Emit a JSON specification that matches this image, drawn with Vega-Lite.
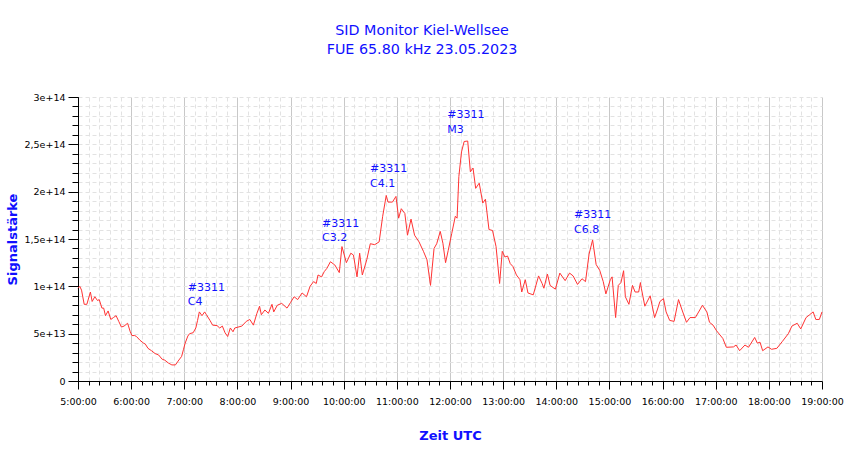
{
  "$schema": "https://vega.github.io/schema/vega-lite/v6.json",
  "width": 744,
  "height": 284,
  "autosize": {"type": "none"},
  "padding": {"left": 78, "top": 97, "right": 28, "bottom": 78},
  "config": {
    "view": {"stroke": null},
    "font": "DejaVu Sans"
  },
  "title": {
    "text": "SID Monitor Kiel-Wellsee",
    "subtitle": "FUE 65.80 kHz 23.05.2023",
    "fontSize": 14.3,
    "subtitleFontSize": 14.3,
    "fontWeight": "normal",
    "color": "#1010ff",
    "subtitleColor": "#1010ff",
    "subtitlePadding": 4,
    "anchor": "middle",
    "dx": -28,
    "offset": 35
  },
  "layer": [
    {
      "data": {
        "values": [
          {"t": "2023-05-23T05:00", "v": 9.8e13},
          {"t": "2023-05-23T05:02", "v": 1.0e14},
          {"t": "2023-05-23T05:04", "v": 9.6e13},
          {"t": "2023-05-23T05:07", "v": 8.1e13},
          {"t": "2023-05-23T05:10", "v": 8.1e13},
          {"t": "2023-05-23T05:14", "v": 9.4e13},
          {"t": "2023-05-23T05:16", "v": 8.4e13},
          {"t": "2023-05-23T05:19", "v": 8.9e13},
          {"t": "2023-05-23T05:22", "v": 8.5e13},
          {"t": "2023-05-23T05:24", "v": 8.6e13},
          {"t": "2023-05-23T05:27", "v": 7.7e13},
          {"t": "2023-05-23T05:29", "v": 7.7e13},
          {"t": "2023-05-23T05:31", "v": 6.9e13},
          {"t": "2023-05-23T05:34", "v": 7.4e13},
          {"t": "2023-05-23T05:37", "v": 6.5e13},
          {"t": "2023-05-23T05:40", "v": 6.7e13},
          {"t": "2023-05-23T05:43", "v": 6.9e13},
          {"t": "2023-05-23T05:46", "v": 6.3e13},
          {"t": "2023-05-23T05:49", "v": 5.7e13},
          {"t": "2023-05-23T05:52", "v": 5.8e13},
          {"t": "2023-05-23T05:56", "v": 6.1e13},
          {"t": "2023-05-23T05:59", "v": 5.2e13},
          {"t": "2023-05-23T06:01", "v": 4.8e13},
          {"t": "2023-05-23T06:04", "v": 4.8e13},
          {"t": "2023-05-23T06:06", "v": 4.7e13},
          {"t": "2023-05-23T06:10", "v": 4.3e13},
          {"t": "2023-05-23T06:14", "v": 4.0e13},
          {"t": "2023-05-23T06:16", "v": 3.9e13},
          {"t": "2023-05-23T06:19", "v": 3.45e13},
          {"t": "2023-05-23T06:23", "v": 3.2e13},
          {"t": "2023-05-23T06:27", "v": 2.9e13},
          {"t": "2023-05-23T06:31", "v": 2.75e13},
          {"t": "2023-05-23T06:35", "v": 2.3e13},
          {"t": "2023-05-23T06:38", "v": 2.2e13},
          {"t": "2023-05-23T06:42", "v": 1.9e13},
          {"t": "2023-05-23T06:46", "v": 1.7e13},
          {"t": "2023-05-23T06:50", "v": 1.7e13},
          {"t": "2023-05-23T06:53", "v": 2.1e13},
          {"t": "2023-05-23T06:57", "v": 2.6e13},
          {"t": "2023-05-23T06:59", "v": 3.3e13},
          {"t": "2023-05-23T07:01", "v": 4.0e13},
          {"t": "2023-05-23T07:04", "v": 4.75e13},
          {"t": "2023-05-23T07:06", "v": 5.0e13},
          {"t": "2023-05-23T07:10", "v": 5.1e13},
          {"t": "2023-05-23T07:13", "v": 5.6e13},
          {"t": "2023-05-23T07:15", "v": 6.4e13},
          {"t": "2023-05-23T07:17", "v": 7.3e13},
          {"t": "2023-05-23T07:20", "v": 6.9e13},
          {"t": "2023-05-23T07:23", "v": 7.3e13},
          {"t": "2023-05-23T07:25", "v": 7.0e13},
          {"t": "2023-05-23T07:29", "v": 6.4e13},
          {"t": "2023-05-23T07:32", "v": 5.9e13},
          {"t": "2023-05-23T07:37", "v": 5.85e13},
          {"t": "2023-05-23T07:40", "v": 5.6e13},
          {"t": "2023-05-23T07:43", "v": 5.8e13},
          {"t": "2023-05-23T07:46", "v": 5.1e13},
          {"t": "2023-05-23T07:49", "v": 4.7e13},
          {"t": "2023-05-23T07:52", "v": 5.6e13},
          {"t": "2023-05-23T07:55", "v": 5.2e13},
          {"t": "2023-05-23T07:57", "v": 5.6e13},
          {"t": "2023-05-23T08:05", "v": 5.8e13},
          {"t": "2023-05-23T08:10", "v": 6.3e13},
          {"t": "2023-05-23T08:14", "v": 6.5e13},
          {"t": "2023-05-23T08:18", "v": 5.9e13},
          {"t": "2023-05-23T08:22", "v": 7.15e13},
          {"t": "2023-05-23T08:25", "v": 7.9e13},
          {"t": "2023-05-23T08:27", "v": 7.0e13},
          {"t": "2023-05-23T08:31", "v": 7.5e13},
          {"t": "2023-05-23T08:35", "v": 7.15e13},
          {"t": "2023-05-23T08:39", "v": 8.1e13},
          {"t": "2023-05-23T08:41", "v": 7.3e13},
          {"t": "2023-05-23T08:45", "v": 8.0e13},
          {"t": "2023-05-23T08:50", "v": 8.2e13},
          {"t": "2023-05-23T08:56", "v": 7.7e13},
          {"t": "2023-05-23T09:00", "v": 8.3e13},
          {"t": "2023-05-23T09:04", "v": 8.9e13},
          {"t": "2023-05-23T09:08", "v": 8.6e13},
          {"t": "2023-05-23T09:13", "v": 9.3e13},
          {"t": "2023-05-23T09:18", "v": 8.9e13},
          {"t": "2023-05-23T09:22", "v": 1.0e14},
          {"t": "2023-05-23T09:26", "v": 1.05e14},
          {"t": "2023-05-23T09:29", "v": 1.03e14},
          {"t": "2023-05-23T09:31", "v": 1.12e14},
          {"t": "2023-05-23T09:35", "v": 1.10e14},
          {"t": "2023-05-23T09:38", "v": 1.155e14},
          {"t": "2023-05-23T09:41", "v": 1.19e14},
          {"t": "2023-05-23T09:45", "v": 1.26e14},
          {"t": "2023-05-23T09:50", "v": 1.225e14},
          {"t": "2023-05-23T09:55", "v": 1.145e14},
          {"t": "2023-05-23T09:58", "v": 1.42e14},
          {"t": "2023-05-23T10:03", "v": 1.25e14},
          {"t": "2023-05-23T10:08", "v": 1.35e14},
          {"t": "2023-05-23T10:11", "v": 1.33e14},
          {"t": "2023-05-23T10:15", "v": 1.10e14},
          {"t": "2023-05-23T10:18", "v": 1.35e14},
          {"t": "2023-05-23T10:21", "v": 1.12e14},
          {"t": "2023-05-23T10:26", "v": 1.28e14},
          {"t": "2023-05-23T10:30", "v": 1.45e14},
          {"t": "2023-05-23T10:35", "v": 1.44e14},
          {"t": "2023-05-23T10:40", "v": 1.47e14},
          {"t": "2023-05-23T10:44", "v": 1.74e14},
          {"t": "2023-05-23T10:48", "v": 1.96e14},
          {"t": "2023-05-23T10:50", "v": 1.89e14},
          {"t": "2023-05-23T10:55", "v": 1.89e14},
          {"t": "2023-05-23T10:59", "v": 1.95e14},
          {"t": "2023-05-23T11:02", "v": 1.72e14},
          {"t": "2023-05-23T11:05", "v": 1.82e14},
          {"t": "2023-05-23T11:09", "v": 1.77e14},
          {"t": "2023-05-23T11:12", "v": 1.54e14},
          {"t": "2023-05-23T11:16", "v": 1.71e14},
          {"t": "2023-05-23T11:20", "v": 1.54e14},
          {"t": "2023-05-23T11:25", "v": 1.47e14},
          {"t": "2023-05-23T11:30", "v": 1.37e14},
          {"t": "2023-05-23T11:34", "v": 1.28e14},
          {"t": "2023-05-23T11:38", "v": 1.01e14},
          {"t": "2023-05-23T11:42", "v": 1.40e14},
          {"t": "2023-05-23T11:45", "v": 1.45e14},
          {"t": "2023-05-23T11:49", "v": 1.58e14},
          {"t": "2023-05-23T11:52", "v": 1.455e14},
          {"t": "2023-05-23T11:55", "v": 1.25e14},
          {"t": "2023-05-23T11:58", "v": 1.38e14},
          {"t": "2023-05-23T12:02", "v": 1.56e14},
          {"t": "2023-05-23T12:06", "v": 1.74e14},
          {"t": "2023-05-23T12:08", "v": 1.72e14},
          {"t": "2023-05-23T12:10", "v": 2.16e14},
          {"t": "2023-05-23T12:13", "v": 2.42e14},
          {"t": "2023-05-23T12:16", "v": 2.53e14},
          {"t": "2023-05-23T12:20", "v": 2.535e14},
          {"t": "2023-05-23T12:23", "v": 2.21e14},
          {"t": "2023-05-23T12:26", "v": 2.25e14},
          {"t": "2023-05-23T12:29", "v": 2.035e14},
          {"t": "2023-05-23T12:33", "v": 2.09e14},
          {"t": "2023-05-23T12:37", "v": 1.88e14},
          {"t": "2023-05-23T12:40", "v": 1.92e14},
          {"t": "2023-05-23T12:44", "v": 1.60e14},
          {"t": "2023-05-23T12:48", "v": 1.59e14},
          {"t": "2023-05-23T12:52", "v": 1.42e14},
          {"t": "2023-05-23T12:56", "v": 1.03e14},
          {"t": "2023-05-23T12:59", "v": 1.37e14},
          {"t": "2023-05-23T13:02", "v": 1.31e14},
          {"t": "2023-05-23T13:05", "v": 1.32e14},
          {"t": "2023-05-23T13:08", "v": 1.24e14},
          {"t": "2023-05-23T13:11", "v": 1.21e14},
          {"t": "2023-05-23T13:15", "v": 1.12e14},
          {"t": "2023-05-23T13:19", "v": 1.07e14},
          {"t": "2023-05-23T13:21", "v": 9.4e13},
          {"t": "2023-05-23T13:25", "v": 1.07e14},
          {"t": "2023-05-23T13:28", "v": 9.3e13},
          {"t": "2023-05-23T13:34", "v": 9.1e13},
          {"t": "2023-05-23T13:40", "v": 1.11e14},
          {"t": "2023-05-23T13:44", "v": 1.03e14},
          {"t": "2023-05-23T13:46", "v": 9.8e13},
          {"t": "2023-05-23T13:50", "v": 1.13e14},
          {"t": "2023-05-23T13:53", "v": 1.01e14},
          {"t": "2023-05-23T13:59", "v": 9.7e13},
          {"t": "2023-05-23T14:04", "v": 1.14e14},
          {"t": "2023-05-23T14:10", "v": 1.06e14},
          {"t": "2023-05-23T14:15", "v": 1.14e14},
          {"t": "2023-05-23T14:19", "v": 1.11e14},
          {"t": "2023-05-23T14:24", "v": 1.02e14},
          {"t": "2023-05-23T14:29", "v": 1.08e14},
          {"t": "2023-05-23T14:33", "v": 1.05e14},
          {"t": "2023-05-23T14:37", "v": 1.34e14},
          {"t": "2023-05-23T14:41", "v": 1.49e14},
          {"t": "2023-05-23T14:45", "v": 1.23e14},
          {"t": "2023-05-23T14:49", "v": 1.17e14},
          {"t": "2023-05-23T14:53", "v": 1.05e14},
          {"t": "2023-05-23T14:56", "v": 9.2e13},
          {"t": "2023-05-23T15:01", "v": 1.07e14},
          {"t": "2023-05-23T15:03", "v": 1.10e14},
          {"t": "2023-05-23T15:07", "v": 6.7e13},
          {"t": "2023-05-23T15:10", "v": 1.01e14},
          {"t": "2023-05-23T15:13", "v": 1.04e14},
          {"t": "2023-05-23T15:16", "v": 1.165e14},
          {"t": "2023-05-23T15:18", "v": 8.9e13},
          {"t": "2023-05-23T15:22", "v": 8.1e13},
          {"t": "2023-05-23T15:26", "v": 1.01e14},
          {"t": "2023-05-23T15:29", "v": 9.4e13},
          {"t": "2023-05-23T15:33", "v": 9.4e13},
          {"t": "2023-05-23T15:35", "v": 1.04e14},
          {"t": "2023-05-23T15:36", "v": 9.8e13},
          {"t": "2023-05-23T15:40", "v": 7.9e13},
          {"t": "2023-05-23T15:46", "v": 9.0e13},
          {"t": "2023-05-23T15:51", "v": 6.7e13},
          {"t": "2023-05-23T15:54", "v": 7.5e13},
          {"t": "2023-05-23T15:57", "v": 8.4e13},
          {"t": "2023-05-23T16:01", "v": 8.7e13},
          {"t": "2023-05-23T16:04", "v": 7.3e13},
          {"t": "2023-05-23T16:08", "v": 6.4e13},
          {"t": "2023-05-23T16:13", "v": 6.3e13},
          {"t": "2023-05-23T16:18", "v": 8.6e13},
          {"t": "2023-05-23T16:22", "v": 7.5e13},
          {"t": "2023-05-23T16:27", "v": 6.2e13},
          {"t": "2023-05-23T16:31", "v": 6.7e13},
          {"t": "2023-05-23T16:37", "v": 6.7e13},
          {"t": "2023-05-23T16:42", "v": 7.5e13},
          {"t": "2023-05-23T16:45", "v": 8.0e13},
          {"t": "2023-05-23T16:50", "v": 7.3e13},
          {"t": "2023-05-23T16:53", "v": 6.2e13},
          {"t": "2023-05-23T16:57", "v": 5.9e13},
          {"t": "2023-05-23T17:01", "v": 5.3e13},
          {"t": "2023-05-23T17:08", "v": 4.5e13},
          {"t": "2023-05-23T17:12", "v": 3.56e13},
          {"t": "2023-05-23T17:20", "v": 3.6e13},
          {"t": "2023-05-23T17:23", "v": 3.8e13},
          {"t": "2023-05-23T17:27", "v": 3.2e13},
          {"t": "2023-05-23T17:33", "v": 3.8e13},
          {"t": "2023-05-23T17:37", "v": 3.56e13},
          {"t": "2023-05-23T17:44", "v": 4.6e13},
          {"t": "2023-05-23T17:47", "v": 4.0e13},
          {"t": "2023-05-23T17:50", "v": 4.1e13},
          {"t": "2023-05-23T17:53", "v": 3.2e13},
          {"t": "2023-05-23T17:59", "v": 3.6e13},
          {"t": "2023-05-23T18:03", "v": 3.35e13},
          {"t": "2023-05-23T18:09", "v": 3.45e13},
          {"t": "2023-05-23T18:15", "v": 4.15e13},
          {"t": "2023-05-23T18:22", "v": 5.0e13},
          {"t": "2023-05-23T18:26", "v": 5.8e13},
          {"t": "2023-05-23T18:32", "v": 6.1e13},
          {"t": "2023-05-23T18:36", "v": 5.5e13},
          {"t": "2023-05-23T18:42", "v": 6.7e13},
          {"t": "2023-05-23T18:46", "v": 7.0e13},
          {"t": "2023-05-23T18:50", "v": 7.3e13},
          {"t": "2023-05-23T18:53", "v": 6.5e13},
          {"t": "2023-05-23T18:57", "v": 6.5e13},
          {"t": "2023-05-23T19:00", "v": 7.3e13}
        ]
      },
      "mark": {"type": "line", "stroke": "#ff3333", "strokeWidth": 1},
      "encoding": {
        "x": {
          "field": "t",
          "type": "temporal",
          "scale": {"domain": [{"year": 2023, "month": 5, "date": 23, "hours": 5}, {"year": 2023, "month": 5, "date": 23, "hours": 19}], "nice": false},
          "axis": {
            "orient": "bottom",
            "values": [
              {"year": 2023, "month": 5, "date": 23, "hours": 5, "minutes": 12},
              {"year": 2023, "month": 5, "date": 23, "hours": 5, "minutes": 24},
              {"year": 2023, "month": 5, "date": 23, "hours": 5, "minutes": 36},
              {"year": 2023, "month": 5, "date": 23, "hours": 5, "minutes": 48},
              {"year": 2023, "month": 5, "date": 23, "hours": 6, "minutes": 12},
              {"year": 2023, "month": 5, "date": 23, "hours": 6, "minutes": 24},
              {"year": 2023, "month": 5, "date": 23, "hours": 6, "minutes": 36},
              {"year": 2023, "month": 5, "date": 23, "hours": 6, "minutes": 48},
              {"year": 2023, "month": 5, "date": 23, "hours": 7, "minutes": 12},
              {"year": 2023, "month": 5, "date": 23, "hours": 7, "minutes": 24},
              {"year": 2023, "month": 5, "date": 23, "hours": 7, "minutes": 36},
              {"year": 2023, "month": 5, "date": 23, "hours": 7, "minutes": 48},
              {"year": 2023, "month": 5, "date": 23, "hours": 8, "minutes": 12},
              {"year": 2023, "month": 5, "date": 23, "hours": 8, "minutes": 24},
              {"year": 2023, "month": 5, "date": 23, "hours": 8, "minutes": 36},
              {"year": 2023, "month": 5, "date": 23, "hours": 8, "minutes": 48},
              {"year": 2023, "month": 5, "date": 23, "hours": 9, "minutes": 12},
              {"year": 2023, "month": 5, "date": 23, "hours": 9, "minutes": 24},
              {"year": 2023, "month": 5, "date": 23, "hours": 9, "minutes": 36},
              {"year": 2023, "month": 5, "date": 23, "hours": 9, "minutes": 48},
              {"year": 2023, "month": 5, "date": 23, "hours": 10, "minutes": 12},
              {"year": 2023, "month": 5, "date": 23, "hours": 10, "minutes": 24},
              {"year": 2023, "month": 5, "date": 23, "hours": 10, "minutes": 36},
              {"year": 2023, "month": 5, "date": 23, "hours": 10, "minutes": 48},
              {"year": 2023, "month": 5, "date": 23, "hours": 11, "minutes": 12},
              {"year": 2023, "month": 5, "date": 23, "hours": 11, "minutes": 24},
              {"year": 2023, "month": 5, "date": 23, "hours": 11, "minutes": 36},
              {"year": 2023, "month": 5, "date": 23, "hours": 11, "minutes": 48},
              {"year": 2023, "month": 5, "date": 23, "hours": 12, "minutes": 12},
              {"year": 2023, "month": 5, "date": 23, "hours": 12, "minutes": 24},
              {"year": 2023, "month": 5, "date": 23, "hours": 12, "minutes": 36},
              {"year": 2023, "month": 5, "date": 23, "hours": 12, "minutes": 48},
              {"year": 2023, "month": 5, "date": 23, "hours": 13, "minutes": 12},
              {"year": 2023, "month": 5, "date": 23, "hours": 13, "minutes": 24},
              {"year": 2023, "month": 5, "date": 23, "hours": 13, "minutes": 36},
              {"year": 2023, "month": 5, "date": 23, "hours": 13, "minutes": 48},
              {"year": 2023, "month": 5, "date": 23, "hours": 14, "minutes": 12},
              {"year": 2023, "month": 5, "date": 23, "hours": 14, "minutes": 24},
              {"year": 2023, "month": 5, "date": 23, "hours": 14, "minutes": 36},
              {"year": 2023, "month": 5, "date": 23, "hours": 14, "minutes": 48},
              {"year": 2023, "month": 5, "date": 23, "hours": 15, "minutes": 12},
              {"year": 2023, "month": 5, "date": 23, "hours": 15, "minutes": 24},
              {"year": 2023, "month": 5, "date": 23, "hours": 15, "minutes": 36},
              {"year": 2023, "month": 5, "date": 23, "hours": 15, "minutes": 48},
              {"year": 2023, "month": 5, "date": 23, "hours": 16, "minutes": 12},
              {"year": 2023, "month": 5, "date": 23, "hours": 16, "minutes": 24},
              {"year": 2023, "month": 5, "date": 23, "hours": 16, "minutes": 36},
              {"year": 2023, "month": 5, "date": 23, "hours": 16, "minutes": 48},
              {"year": 2023, "month": 5, "date": 23, "hours": 17, "minutes": 12},
              {"year": 2023, "month": 5, "date": 23, "hours": 17, "minutes": 24},
              {"year": 2023, "month": 5, "date": 23, "hours": 17, "minutes": 36},
              {"year": 2023, "month": 5, "date": 23, "hours": 17, "minutes": 48},
              {"year": 2023, "month": 5, "date": 23, "hours": 18, "minutes": 12},
              {"year": 2023, "month": 5, "date": 23, "hours": 18, "minutes": 24},
              {"year": 2023, "month": 5, "date": 23, "hours": 18, "minutes": 36},
              {"year": 2023, "month": 5, "date": 23, "hours": 18, "minutes": 48}
            ],
            "grid": true,
            "gridColor": "#e2e2e2",
            "gridDash": [4, 3],
            "domain": false,
            "labels": false,
            "tickSize": 4,
            "tickColor": "#000000",
            "title": null
          }
        },
        "y": {
          "field": "v",
          "type": "quantitative",
          "scale": {"domain": [0, 3e14], "nice": false},
          "axis": {
            "orient": "left",
            "tickCount": 30,
            "grid": true,
            "gridColor": "#e2e2e2",
            "gridDash": [4, 3],
            "domain": false,
            "labels": false,
            "tickSize": 6,
            "tickColor": "#000000",
            "title": null
          }
        }
      }
    },
    {
      "data": {
        "values": [
          {"t": "2023-05-23T07:04", "v": 1.067e14, "region": "#3311", "cls": "C4"},
          {"t": "2023-05-23T09:35:30", "v": 1.748e14, "region": "#3311", "cls": "C3.2"},
          {"t": "2023-05-23T10:29:40", "v": 2.319e14, "region": "#3311", "cls": "C4.1"},
          {"t": "2023-05-23T11:57", "v": 2.892e14, "region": "#3311", "cls": "M3"},
          {"t": "2023-05-23T14:20", "v": 1.836e14, "region": "#3311", "cls": "C6.8"}
        ]
      },
      "layer": [
        {
          "mark": {"type": "text", "align": "left", "baseline": "top", "dy": 2, "fontSize": 11, "color": "#1010ff"},
          "encoding": {
            "x": {
              "field": "t",
              "type": "temporal",
              "axis": {
                "orient": "bottom",
                "tickCount": 14,
                "format": "%-H:%M:%S",
                "labelOverlap": false,
                "labelFlush": false,
                "grid": true,
                "gridColor": "#c8c8c8",
                "domainColor": "#000000",
                "tickColor": "#000000",
                "tickSize": 8,
                "labelFontSize": 9.5,
                "labelColor": "#000000",
                "labelPadding": 7,
                "title": "Zeit UTC",
                "titleColor": "#1010ff",
                "titleFontSize": 13,
                "titleFontWeight": "bold",
                "titlePadding": 24
              }
            },
            "y": {
              "field": "v",
              "type": "quantitative",
              "axis": {
                "orient": "left",
                "tickCount": 6,
                "labelExpr": "datum.value == 0 ? '0' : datum.value == 5e13 ? '5e+13' : datum.value == 1e14 ? '1e+14' : datum.value == 1.5e14 ? '1,5e+14' : datum.value == 2e14 ? '2e+14' : datum.value == 2.5e14 ? '2,5e+14' : '3e+14'",
                "grid": false,
                "domainColor": "#000000",
                "tickColor": "#000000",
                "tickSize": 10,
                "labelFontSize": 9.5,
                "labelColor": "#000000",
                "labelPadding": 3,
                "title": "Signalstärke",
                "titleColor": "#1010ff",
                "titleFontSize": 13,
                "titleFontWeight": "bold",
                "titlePadding": 4
              }
            },
            "text": {"field": "region"}
          }
        },
        {
          "mark": {"type": "text", "align": "left", "baseline": "top", "dy": 16.5, "fontSize": 11, "color": "#1010ff"},
          "encoding": {
            "x": {"field": "t", "type": "temporal"},
            "y": {"field": "v", "type": "quantitative"},
            "text": {"field": "cls"}
          }
        }
      ]
    }
  ],
  "resolve": {"axis": {"x": "independent", "y": "independent"}}
}
